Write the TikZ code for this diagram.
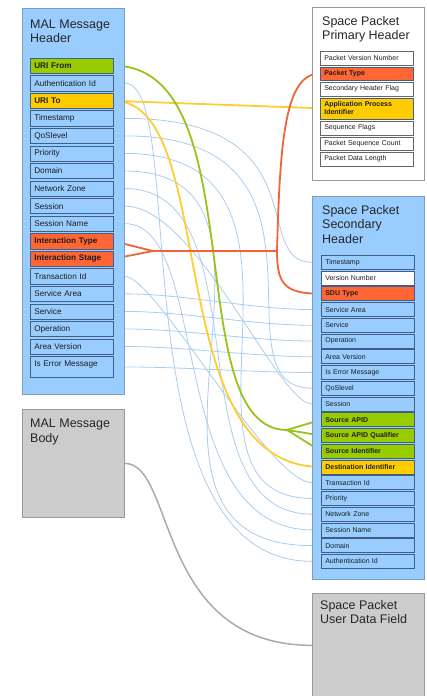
\documentclass[tikz,border=0pt]{standalone}
\usepackage{fontspec}
\setmainfont{Liberation Sans}
\usetikzlibrary{calc}
\definecolor{boxblue}{HTML}{99CCFF}
\definecolor{rowedge}{HTML}{3F5F86}
\definecolor{boxedge}{HTML}{7F9DB9}
\definecolor{prowedge}{HTML}{666666}
\definecolor{rgreen}{HTML}{99CC00}
\definecolor{ryellow}{HTML}{FFCC00}
\definecolor{rorange}{HTML}{FF6633}
\definecolor{lblue}{HTML}{A7CDF0}
\definecolor{lgreen}{HTML}{99C31C}
\definecolor{lyellow}{HTML}{FFCC33}
\definecolor{lorange}{HTML}{F0643A}
\definecolor{gbox}{HTML}{CCCCCC}
\definecolor{gedge}{HTML}{999999}
\definecolor{glinec}{HTML}{AAAAAA}
\definecolor{titlec}{HTML}{262626}
\definecolor{rowtext}{HTML}{1E1E1E}
\pgfdeclarelayer{lines}
\pgfsetlayers{lines,main}
\tikzset{
  cbox/.style={draw=boxedge, line width=0.7pt, anchor=north west, inner sep=0pt},
  ttl/.style={anchor=north west, align=left, inner sep=0pt, text=titlec, font=\fontsize{12.5}{14.5}\selectfont},
  lrow/.style={draw=rowedge, line width=0.6pt, fill=boxblue, anchor=north west, minimum height=15.2pt, inner xsep=4pt, inner ysep=0pt, text width=75pt, align=left, font=\fontsize{8.2}{9.5}\selectfont, text=rowtext},
  lbold/.style={font=\fontsize{8.2}{9.5}\selectfont\bfseries},
  rrow/.style={draw=rowedge, line width=0.6pt, fill=boxblue, anchor=north west, minimum height=14pt, inner xsep=4pt, inner ysep=0pt, text width=85pt, align=left, font=\fontsize{7}{8}\selectfont, text=rowtext},
  rbold/.style={font=\fontsize{7}{8}\selectfont\bfseries},
  prow/.style={rrow, fill=white, draw=prowedge, minimum height=13.5pt},
  bline/.style={draw=lblue, line width=0.8pt},
  gline/.style={draw=lgreen, line width=1.8pt, line join=round},
  yline/.style={draw=lyellow, line width=1.8pt, line join=round},
  oline/.style={draw=lorange, line width=1.8pt, line join=round},
  grline/.style={draw=glinec, line width=1.5pt},
}
% blue connector: from left row #1 to right row #2, control offsets #3 and #4
\newcommand\blink[4]{\draw[bline] (#1.east) -- (#1.east -| hdr.east) .. controls +(#3,0) and +(-#4,0) .. (#2.west -| sec.west) -- (#2.west);}
\begin{document}
\begin{tikzpicture}[x=1pt,y=-1pt]
\useasboundingbox (0,0) rectangle (426,696);
% containers
\node[cbox, fill=boxblue, minimum width=102pt, minimum height=386pt] (hdr) at (22,8) {};
\node[cbox, fill=gbox, draw=gedge, minimum width=102pt, minimum height=108pt] (body) at (22,409) {};
\node[cbox, fill=white, draw=gedge, minimum width=112pt, minimum height=173pt] (prim) at (312,7) {};
\node[cbox, fill=boxblue, minimum width=112pt, minimum height=383pt] (sec) at (312,196) {};
\node[cbox, fill=gbox, draw=gedge, minimum width=112pt, minimum height=104pt] (udf) at (312,593) {};
% titles
\node[ttl] (thdr) at (30,19.4) {MAL Message\\Header};
\node[ttl] (tprim) at (322,16) {Space Packet\\Primary Header};
\node[ttl] (tsec) at (322,205) {Space Packet\\Secondary\\Header};
\node[ttl] (tbody) at (30,419) {MAL Message\\Body};
\node[ttl] (tudf) at (320,600) {Space Packet\\User Data Field};
% left rows
\node[lrow, lbold, fill=rgreen] (l0) at (30,57.8) {URI From};
\node[lrow] (l1) at (30,75.35) {Authentication Id};
\node[lrow, lbold, fill=ryellow] (l2) at (30,92.9) {URI To};
\node[lrow] (l3) at (30,110.45) {Timestamp};
\node[lrow] (l4) at (30,128) {QoSlevel};
\node[lrow] (l5) at (30,145.55) {Priority};
\node[lrow] (l6) at (30,163.1) {Domain};
\node[lrow] (l7) at (30,180.65) {Network Zone};
\node[lrow] (l8) at (30,198.2) {Session};
\node[lrow] (l9) at (30,215.75) {Session Name};
\node[lrow, lbold, fill=rorange] (l10) at (30,233.3) {Interaction Type};
\node[lrow, lbold, fill=rorange] (l11) at (30,250.85) {Interaction Stage};
\node[lrow] (l12) at (30,268.4) {Transaction Id};
\node[lrow] (l13) at (30,285.95) {Service Area};
\node[lrow] (l14) at (30,303.5) {Service};
\node[lrow] (l15) at (30,321.05) {Operation};
\node[lrow] (l16) at (30,338.6) {Area Version};
\node[lrow, minimum height=21pt, text depth=7pt] (l17) at (30,356.15) {Is Error Message};
% primary header rows
\node[prow] (p0) at (320,51) {Packet Version Number};
\node[prow, rbold, fill=rorange, draw=rowedge] (p1) at (320,66.5) {Packet Type};
\node[prow] (p2) at (320,82) {Secondary Header Flag};
\node[prow, rbold, fill=ryellow, draw=rowedge, minimum height=21pt] (p3) at (320,97.5) {Application Process\\Identifier};
\node[prow] (p4) at (320,121) {Sequence Flags};
\node[prow] (p5) at (320,136.5) {Packet Sequence Count};
\node[prow] (p6) at (320,152) {Packet Data Length};
% secondary header rows
\node[rrow] (s0) at (321,255) {Timestamp};
\node[rrow, fill=white] (s1) at (321,270.74) {Version Number};
\node[rrow, rbold, fill=rorange] (s2) at (321,286.48) {SDU Type};
\node[rrow] (s3) at (321,302.22) {Service Area};
\node[rrow] (s4) at (321,317.96) {Service};
\node[rrow] (s5) at (321,333.7) {Operation};
\node[rrow] (s6) at (321,349.44) {Area Version};
\node[rrow] (s7) at (321,365.18) {Is Error Message};
\node[rrow] (s8) at (321,380.92) {QoSlevel};
\node[rrow] (s9) at (321,396.66) {Session};
\node[rrow, rbold, fill=rgreen] (s10) at (321,412.4) {Source APID};
\node[rrow, rbold, fill=rgreen] (s11) at (321,428.14) {Source APID Qualifier};
\node[rrow, rbold, fill=rgreen] (s12) at (321,443.88) {Source Identifier};
\node[rrow, rbold, fill=ryellow] (s13) at (321,459.62) {Destination Identifier};
\node[rrow] (s14) at (321,475.36) {Transaction Id};
\node[rrow] (s15) at (321,491.1) {Priority};
\node[rrow] (s16) at (321,506.84) {Network Zone};
\node[rrow] (s17) at (321,522.58) {Session Name};
\node[rrow] (s18) at (321,538.32) {Domain};
\node[rrow] (s19) at (321,554.06) {Authentication Id};
% junction points
\coordinate (gm) at (287,430);
\coordinate (om) at (153,251);
\coordinate (ob) at (277,251);
\begin{pgfonlayer}{lines}
% blue connectors
\blink{l1}{s19}{66}{199}
\blink{l3}{s0}{198}{63}
\blink{l4}{s8}{233}{103}
\blink{l5}{s15}{230}{165}
\blink{l6}{s18}{207}{228}
\blink{l7}{s16}{141}{143}
\blink{l8}{s9}{72}{34}
\blink{l9}{s17}{88}{149}
\blink{l12}{s14}{31}{43}
\blink{l13}{s3}{60}{60}
\blink{l14}{s4}{60}{60}
\blink{l15}{s5}{60}{60}
\blink{l16}{s6}{60}{60}
\blink{l17}{s7}{60}{60}
% gray
\draw[grline] (body.east) .. controls +(51,0) and +(-157,0) .. (udf.west);
% yellow
\draw[yline] (l2.east) -- (p3.west);
\draw[yline] (l2.east) .. controls +(108,0) and +(-163,0) .. (s13.west);
% green
\draw[gline] (l0.east) .. controls +(142,0) and +(-109,0) .. (gm);
\draw[gline] (gm) -- (s10.west);
\draw[gline] (gm) -- (s11.west);
\draw[gline] (gm) -- (s12.west);
% orange
\draw[oline] (l10.east) -- (om) -- (ob);
\draw[oline] (l11.east) -- (om);
\draw[oline] (ob) .. controls (280,140) and (285,73.25) .. (p1.west);
\draw[oline] (ob) .. controls (277,285) and (285,293.5) .. (s2.west);
\end{pgfonlayer}
\end{tikzpicture}
\end{document}
